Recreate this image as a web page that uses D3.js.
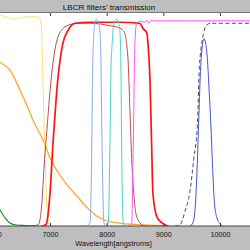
<!DOCTYPE html>
<html>
<head>
<meta charset="utf-8">
<script src="https://cdn.jsdelivr.net/npm/d3@7"></script>
<style>
  html, body { margin: 0; padding: 0; background: #bebebe; }
  svg { display: block; font-family: "Liberation Sans", Arial, sans-serif; }
</style>
</head>
<body>
<svg id="chart" width="250" height="250"></svg>
<script>
// Wavelength [angstroms] and transmission for each LBCR filter
const greenWl = [5900, 6000, 6118, 6206, 6294, 6383, 6559, 6750];
const greenTr = [0.22, 0.14, 0.078, 0.04, 0.015, 0.006, 0.002, 0];

const orangeWl = [5900, 6000, 6118, 6294, 6471, 6612, 6700, 6906, 7000, 7194, 7300, 7494, 7617, 7793, 7970, 8182, 8499, 8763, 9116];
const orangeTr = [0.83, 0.82, 0.796, 0.757, 0.66, 0.573, 0.515, 0.40, 0.33, 0.24, 0.2, 0.14, 0.1, 0.055, 0.028, 0.015, 0.008, 0.004, 0];

const yellowWl = [5900, 6118, 6206, 6380, 6470, 6650, 6790, 6841, 6859, 6876, 6906, 6947, 6970, 7000, 7050];
const yellowTr = [1.02, 1.025, 1.017, 1.005, 1.01, 1.017, 1.017, 0.99, 0.89, 0.7, 0.40, 0.08, 0.02, 0.005, 0];

const brownWl = [6650, 6788, 6823, 6859, 6894, 6935, 7023, 7111, 7229, 7370, 7494, 7705, 7882, 8023, 8199, 8270, 8323, 8358, 8375, 8411, 8446, 8481, 8516, 8587, 8675];
const brownTr = [0, 0.005, 0.03, 0.12, 0.28, 0.43, 0.72, 0.89, 0.96, 0.98, 0.985, 0.985, 0.982, 0.975, 0.965, 0.955, 0.935, 0.87, 0.82, 0.56, 0.3, 0.15, 0.06, 0.015, 0];

const redWl = [6850, 6894, 6935, 6995, 7053, 7141, 7229, 7317, 7435, 7705, 8234, 8587, 8640, 8710, 8728, 8763, 8793, 8816, 8887, 8975, 9081];
const redTr = [0, 0.002, 0.01, 0.14, 0.40, 0.72, 0.89, 0.95, 0.985, 0.99, 0.99, 0.985, 0.96, 0.937, 0.89, 0.72, 0.40, 0.16, 0.044, 0.015, 0];

const lightBlueWl = [7650, 7705, 7740, 7752, 7772, 7785, 7823, 7864, 7882, 7899, 7916, 7952, 7990];
const lightBlueTr = [0, 0.015, 0.45, 0.76, 0.92, 0.98, 1.005, 0.98, 0.94, 0.8, 0.45, 0.015, 0];

const cyanWl = [7987, 8028, 8058, 8076, 8098, 8120, 8176, 8225, 8243, 8252, 8264, 8293, 8323];
const cyanTr = [0, 0.015, 0.4, 0.76, 0.89, 0.97, 1.005, 0.97, 0.89, 0.76, 0.4, 0.015, 0];

const magentaWl = [8390, 8441, 8470, 8499, 8529, 8600, 8675, 8710, 8745, 8780, 8810, 9000, 9500, 10000, 10700];
const magentaTr = [0, 0.013, 0.40, 0.89, 0.985, 0.995, 0.99, 1.0, 0.985, 1.0, 0.997, 0.997, 0.997, 0.997, 0.997];

const blueWl = [9469, 9520, 9560, 9592, 9622, 9655, 9690, 9716, 9745, 9780, 9810, 9839, 9870, 9900, 9945, 9998, 10050];
const blueTr = [0, 0.015, 0.08, 0.25, 0.49, 0.75, 0.88, 0.91, 0.89, 0.8, 0.65, 0.49, 0.28, 0.12, 0.04, 0.012, 0];

const dashWl = [9200, 9292, 9381, 9469, 9539, 9601, 9636, 9706, 9769, 9839, 10000, 10700];
const dashTr = [0, 0.005, 0.07, 0.167, 0.33, 0.49, 0.77, 0.93, 0.978, 0.985, 0.985, 0.985];

const tickValues = [6000, 7000, 8000, 9000, 10000];
const titleText = "LBCR filters' transmission";
const xLabelText = "Wavelength[angstroms]";

// styles for each filter line (drawing order)
const filters = [
  { wl: greenWl, tr: greenTr, color: "#1e8c1e", width: 1.2 },
  { wl: orangeWl, tr: orangeTr, color: "#ffa62a", width: 1.3 },
  { wl: yellowWl, tr: yellowTr, color: "#ffe070", width: 1.0 },
  { wl: brownWl, tr: brownTr, color: "#b45050", width: 1.0 },
  { wl: redWl, tr: redTr, color: "#ff1414", width: 1.7 },
  { wl: lightBlueWl, tr: lightBlueTr, color: "#86abf2", width: 1.0 },
  { wl: cyanWl, tr: cyanTr, color: "#4ad2ca", width: 1.0 },
  { wl: magentaWl, tr: magentaTr, color: "#ff55f0", width: 1.0 },
  { wl: blueWl, tr: blueTr, color: "#4452da", width: 1.0 },
  { wl: dashWl, tr: dashTr, color: "#3a3a3a", width: 0.9, dash: "4,2.5" },
];

const svg = d3.select("#chart");
const width = 250;
const plotTop = 13;
const plotBottom = 226;

const x = d3.scaleLinear().domain([7000, 10000]).range([50, 220]);
const y = d3.scaleLinear().domain([0, 1]).range([plotBottom, 20.2]);

// white axes area
svg.append("rect")
  .attr("x", 0).attr("y", plotTop)
  .attr("width", width).attr("height", plotBottom - plotTop)
  .attr("fill", "#ffffff");

svg.append("defs").append("clipPath").attr("id", "clip")
  .append("rect")
  .attr("x", 0).attr("y", plotTop)
  .attr("width", width).attr("height", plotBottom - plotTop);

const line = d3.line()
  .x((d) => x(d[0]))
  .y((d) => y(d[1]))
  .curve(d3.curveMonotoneX);

svg.append("g")
  .attr("clip-path", "url(#clip)")
  .selectAll("path")
  .data(filters)
  .join("path")
  .attr("d", (f) => line(f.wl.map((w, i) => [w, f.tr[i]])))
  .attr("fill", "none")
  .attr("stroke", (f) => f.color)
  .attr("stroke-width", (f) => f.width)
  .attr("stroke-dasharray", (f) => f.dash || null)
  .attr("stroke-linejoin", "round");

// bottom axis with inward ticks
const xAxis = svg.append("g")
  .attr("transform", `translate(0,${plotBottom})`)
  .call(d3.axisBottom(x).tickValues(tickValues).tickSizeInner(-3).tickSizeOuter(0).tickPadding(6)
    .tickFormat(d3.format("d")));
xAxis.select(".domain").remove();
xAxis.selectAll(".tick line").attr("stroke", "#444");
xAxis.selectAll(".tick text")
  .attr("font-size", "7.2px")
  .attr("font-family", "Liberation Sans, Arial, sans-serif")
  .attr("fill", "#111");

// top axis ticks
const xTop = svg.append("g")
  .attr("transform", `translate(0,${plotTop})`)
  .call(d3.axisTop(x).tickValues(tickValues).tickSizeInner(-3).tickSizeOuter(0).tickFormat(""));
xTop.select(".domain").remove();
xTop.selectAll(".tick line").attr("stroke", "#444");

// spines
svg.append("line")
  .attr("x1", 0).attr("x2", width)
  .attr("y1", plotBottom).attr("y2", plotBottom)
  .attr("stroke", "#444").attr("stroke-width", 1);
svg.append("line")
  .attr("x1", 0).attr("x2", width)
  .attr("y1", plotTop - 0.5).attr("y2", plotTop - 0.5)
  .attr("stroke", "#777").attr("stroke-width", 1);

// title and axis label
svg.append("text")
  .attr("x", 109).attr("y", 10.3)
  .attr("text-anchor", "middle")
  .attr("font-size", "8.1px")
  .attr("fill", "#111")
  .text(titleText);

svg.append("text")
  .attr("x", 113.5).attr("y", 245.8)
  .attr("text-anchor", "middle")
  .attr("font-size", "7.3px")
  .attr("fill", "#111")
  .text(xLabelText);
</script>
</body>
</html>
